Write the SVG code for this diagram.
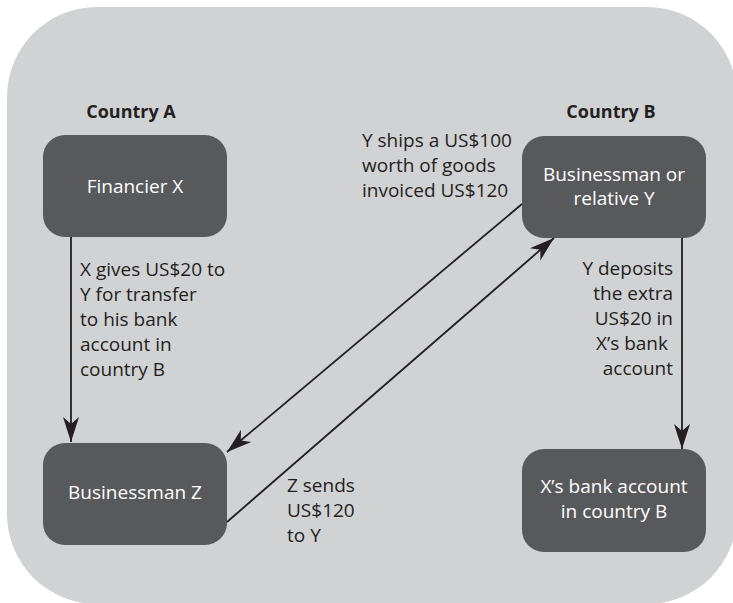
<svg xmlns="http://www.w3.org/2000/svg" width="733" height="603" viewBox="0 0 733 603">
<style>
.bg{fill:#d1d2d4}
.node{fill:#58595b}
.nt{fill:#ffffff;font-family:"Open Sans","DejaVu Sans",sans-serif;font-size:19px;text-anchor:middle}
.lbl{fill:#231f20;font-family:"Open Sans","DejaVu Sans",sans-serif;font-size:19px}
.hdr{fill:#231f20;font-family:"Open Sans","DejaVu Sans",sans-serif;font-size:18px;font-weight:bold;text-anchor:middle}
.conn{stroke:#231f20;stroke-width:1.8;fill:none;marker-end:url(#arr)}
</style>
<defs>
<marker id="arr" markerUnits="userSpaceOnUse" orient="auto" refX="0" refY="0" markerWidth="30" markerHeight="20" viewBox="-26 -10 30 20" overflow="visible">
<path d="M0,0 L-25,-8 L-18,0 L-25,8 Z" fill="#231f20"/>
</marker>
</defs>
<rect class="bg" x="7" y="7" width="730" height="597" rx="90" ry="90"/>
<text class="hdr" x="131" y="118">Country A</text>
<text class="hdr" x="611" y="118">Country B</text>
<g id="connectors">
<line class="conn" x1="71" y1="237" x2="71" y2="442"/>
<line class="conn" x1="522" y1="204" x2="227" y2="452"/>
<line class="conn" x1="227" y1="522" x2="554" y2="238"/>
<line class="conn" x1="682" y1="238" x2="682" y2="449"/>
</g>
<g id="financierX">
<rect class="node" x="43" y="135" width="184" height="102" rx="22"/>
<text class="nt" x="135" y="193">Financier X</text>
</g>
<g id="businessmanY">
<rect class="node" x="522" y="136" width="184" height="102" rx="22"/>
<text class="nt" x="614" y="181">Businessman or</text>
<text class="nt" x="614" y="205">relative Y</text>
</g>
<g id="businessmanZ">
<rect class="node" x="43" y="443" width="184" height="102" rx="22"/>
<text class="nt" x="135" y="499">Businessman Z</text>
</g>
<g id="bankAccount">
<rect class="node" x="522" y="449" width="184" height="103" rx="22"/>
<text class="nt" x="614" y="493">X’s bank account</text>
<text class="nt" x="614" y="518">in country B</text>
</g>
<g id="labels">
<text class="lbl" x="80" y="276">X gives US$20 to</text>
<text class="lbl" x="80" y="301">Y for transfer</text>
<text class="lbl" x="80" y="326">to his bank</text>
<text class="lbl" x="80" y="351">account in</text>
<text class="lbl" x="80" y="376">country B</text>
<text class="lbl" x="362" y="147">Y ships a US$100</text>
<text class="lbl" x="362" y="172">worth of goods</text>
<text class="lbl" x="362" y="197">invoiced US$120</text>
<text class="lbl" x="673" y="275" text-anchor="end">Y deposits</text>
<text class="lbl" x="673" y="300" text-anchor="end">the extra</text>
<text class="lbl" x="673" y="325" text-anchor="end">US$20 in</text>
<text class="lbl" x="668" y="350" text-anchor="end">X’s bank</text>
<text class="lbl" x="673" y="375" text-anchor="end">account</text>
<text class="lbl" x="287" y="492">Z sends</text>
<text class="lbl" x="287" y="517">US$120</text>
<text class="lbl" x="287" y="542">to Y</text>
</g>
</svg>
